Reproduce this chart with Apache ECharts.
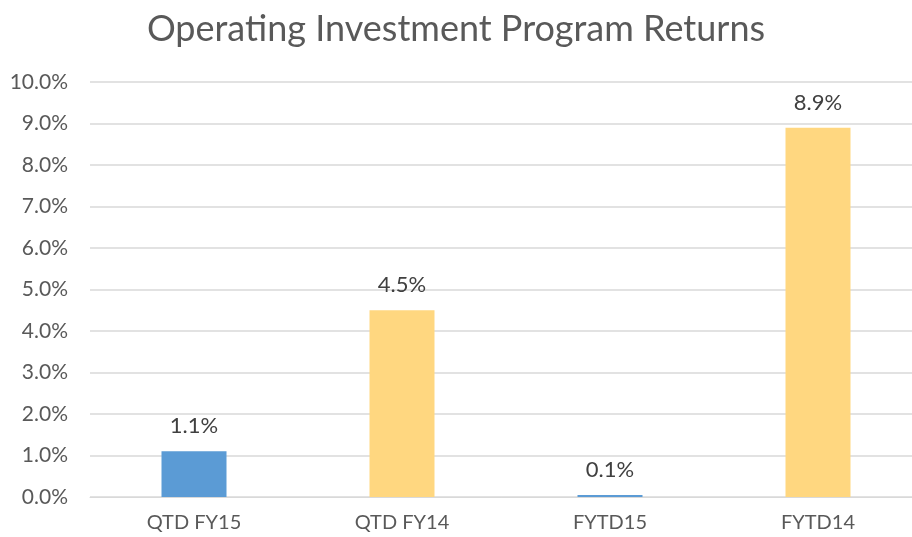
<!DOCTYPE html>
<html>
<head>
<meta charset="utf-8">
<script src="https://cdn.jsdelivr.net/npm/echarts@6/dist/echarts.min.js"></script>
<style>
  html, body { margin: 0; padding: 0; background: #fff; }
  #chart { width: 912px; height: 537px; }
</style>
</head>
<body>
<div id="chart"></div>
<script>
  // data (FYTD15 bar is a sliver, shown as 0.1%)
  var categories = ['QTD FY15', 'QTD FY14', 'FYTD15', 'FYTD14'];
  var returns = [1.1, 4.5, 0.05, 8.9];
  var barColors = ['#5B9BD5', '#FFD780', '#5B9BD5', '#FFD780'];

  var font = 'Lato, "Open Sans", sans-serif';

  var chart = echarts.init(document.getElementById('chart'));
  chart.setOption({
    animation: false,
    title: {
      text: 'Operating Investment Program Returns',
      left: 'center',
      top: 6,
      textStyle: { fontFamily: font, fontSize: 36, fontWeight: 'normal', color: '#595959' }
    },
    grid: { left: 90, width: 832, top: 82, bottom: 40, outerBoundsMode: 'none' },
    xAxis: {
      type: 'category',
      data: categories,
      axisLine: { lineStyle: { color: '#D9D9D9', width: 1 } },
      axisTick: { show: false },
      axisLabel: { fontFamily: font, fontSize: 20, color: '#595959', margin: 16 }
    },
    yAxis: {
      type: 'value',
      min: 0,
      max: 10,
      interval: 1,
      axisLine: { show: false },
      axisTick: { show: false },
      splitLine: { lineStyle: { color: '#D9D9D9', width: 1.5 } },
      axisLabel: {
        fontFamily: font, fontSize: 21, color: '#595959', margin: 22,
        formatter: function (v) { return v.toFixed(1) + '%'; }
      }
    },
    series: [{
      type: 'bar',
      barWidth: 65,
      data: returns.map(function (v, i) {
        return { value: v, itemStyle: { color: barColors[i] } };
      }),
      label: {
        show: true,
        position: 'top',
        distance: 14,
        fontFamily: font,
        fontSize: 22,
        color: '#404040',
        formatter: function (p) { return p.value.toFixed(1) + '%'; }
      }
    }]
  });
</script>
</body>
</html>
